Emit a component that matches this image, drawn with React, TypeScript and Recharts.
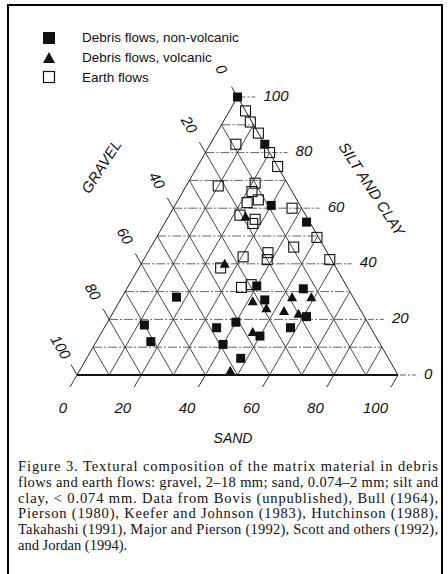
import { ScatterChart, Scatter, XAxis, YAxis, ReferenceLine, ReferenceDot, Legend } from 'recharts'

// each point: [sand %, silt and clay %]; gravel is whatever is left
const nonVolcanic = [
  [0, 100], [17, 83], [30, 61], [44, 55], [40, 32], [45, 27], [55, 31], [61, 21], [58, 17],
  [40, 19], [35, 17], [40, 11], [50, 14], [48, 6], [17, 28], [12, 18], [17, 12],
]
const volcanic = [
  [24, 57], [26, 40], [41.5, 26.5], [47, 24], [53, 28], [59, 28], [53, 23], [58, 22],
  [47, 15.5], [47, 1.5],
]
const earthFlows = [
  [5, 95], [8.5, 91], [13, 87], [20, 80], [25, 75], [8, 83], [10, 68], [21, 69], [21.5, 66],
  [25, 63], [22, 62], [22, 57.5], [27.5, 56], [27.5, 54.5], [37, 60], [50, 49.5], [44.5, 46],
  [58, 41.5], [30.5, 42.5], [37.5, 44], [38.5, 41.5], [25.5, 38.5], [35.5, 31.5], [38, 32.5],
]

const gridSteps = [10, 20, 30, 40, 50, 60, 70, 80, 90]
const tickValues = [0, 20, 40, 60, 80, 100]

const SERIES = ['Debris flows, non-volcanic', 'Debris flows, volcanic', 'Earth flows']

const captionLines = [
  'Figure 3. Textural composition of the matrix material in debris',
  'flows and earth flows: gravel, 2–18 mm; sand, 0.074–2 mm; silt and',
  'clay, < 0.074 mm. Data from Bovis (unpublished), Bull (1964),',
  'Pierson (1980), Keefer and Johnson (1983), Hutchinson (1988),',
  'Takahashi (1991), Major and Pierson (1992), Scott and others (1992),',
  'and Jordan (1994).',
]

const SANS = '"Liberation Sans", Arial, Helvetica, sans-serif'
const SERIF = '"Liberation Serif", "Times New Roman", serif'
const INK = '#111'

// ternary -> plot coords (x along base, y = silt and clay)
const toXY = ([sand, silt]: number[]) => ({ x: sand + silt / 2, y: silt, sand, silt, gravel: 100 - sand - silt })

const filledSquare = (p: any) => <rect x={p.cx - 4.5} y={p.cy - 4.5} width={9} height={9} fill={INK} />
const triangle = (p: any) => (
  <path d={`M${p.cx},${p.cy - 5} L${p.cx + 5},${p.cy + 4} L${p.cx - 5},${p.cy + 4} Z`} fill={INK} />
)
const openSquare = (p: any) => (
  <rect x={p.cx - 5} y={p.cy - 5} width={10} height={10} fill="none" stroke={INK} strokeWidth={1.1} />
)

const legendMarker = (name: string) => {
  if (name === SERIES[0]) return <rect x={1} y={1} width={12} height={12} fill={INK} />
  if (name === SERIES[1]) return <path d="M7,1 L13,12 L1,12 Z" fill={INK} />
  return <rect x={1.5} y={1.5} width={11} height={11} fill="none" stroke={INK} strokeWidth={1.2} />
}

const renderLegend = ({ payload }: any) => (
  <div style={{ fontFamily: SANS, fontSize: 13.5, color: INK }}>
    {(payload || []).map((entry: any) => (
      <div key={entry.value} style={{ display: 'flex', alignItems: 'center', height: 19.7 }}>
        <svg width={40} height={14} style={{ display: 'block' }}>
          {legendMarker(entry.value)}
        </svg>
        <span>{entry.value}</span>
      </div>
    ))}
  </div>
)

const tickText = {
  fontFamily: SANS,
  fontStyle: 'italic' as const,
  fontSize: 15,
  fill: INK,
}

const sandTick = (label: number) => (p: any) => (
  <g>
    <line x1={p.cx} y1={p.cy} x2={p.cx - 7} y2={p.cy + 12} stroke="#333" strokeWidth={1} />
    <text x={p.cx - 10} y={p.cy + 38} textAnchor="end" {...tickText}>
      {label}
    </text>
  </g>
)

const gravelTick = (label: number) => (p: any) => {
  const tx = p.cx - 16
  const ty = p.cy - 28
  return (
    <g>
      <line x1={p.cx} y1={p.cy} x2={p.cx - 6} y2={p.cy - 10.4} stroke="#333" strokeWidth={1} />
      <text
        x={tx}
        y={ty}
        textAnchor="middle"
        dominantBaseline="central"
        transform={`rotate(60 ${tx} ${ty})`}
        {...tickText}
      >
        {label}
      </text>
    </g>
  )
}

const siltTick = (label: number) => (p: any) => (
  <g>
    <line x1={p.cx + 2} y1={p.cy} x2={p.cx + 18} y2={p.cy} stroke="#555" strokeWidth={0.9} strokeDasharray="6 2 2 2" />
    <text x={p.cx + 26} y={p.cy + 3.5} textAnchor="start" {...tickText}>
      {label}
    </text>
  </g>
)

const title = (label: string, rotate: number, size = 15) => (p: any) => (
  <text
    x={p.cx}
    y={p.cy}
    textAnchor="middle"
    dominantBaseline="central"
    transform={rotate ? `rotate(${rotate} ${p.cx} ${p.cy})` : undefined}
    {...tickText}
    fontSize={size}
  >
    {label}
  </text>
)

export default function App() {
  return (
    <div style={{ position: 'absolute', left: 0, top: 0, width: 448, height: 574, background: '#fff', overflow: 'hidden' }}>
      {/* frame */}
      <div
        style={{
          position: 'absolute',
          left: 7,
          top: 4,
          width: 436,
          height: 580,
          border: '2px solid #000',
          boxSizing: 'border-box',
        }}
      />

      <div style={{ position: 'absolute', left: 0, top: 0 }}>
        <ScatterChart width={448} height={455} margin={{ top: 97, right: 50, bottom: 80, left: 77 }}>
          <XAxis type="number" dataKey="x" domain={[0, 100]} hide />
          <YAxis type="number" dataKey="y" domain={[0, 100]} hide />

          {/* constant sand */}
          {gridSteps.map((s) => (
            <ReferenceLine
              key={`sand-${s}`}
              ifOverflow="visible"
              segment={[{ x: s, y: 0 }, { x: s + (100 - s) / 2, y: 100 - s }]}
              stroke="#333"
              strokeWidth={0.9}
            />
          ))}
          {/* constant gravel */}
          {gridSteps.map((g) => (
            <ReferenceLine
              key={`gravel-${g}`}
              ifOverflow="visible"
              segment={[{ x: (100 - g) / 2, y: 100 - g }, { x: 100 - g, y: 0 }]}
              stroke="#333"
              strokeWidth={0.9}
            />
          ))}
          {/* constant silt and clay */}
          {gridSteps.map((t) => (
            <ReferenceLine
              key={`silt-${t}`}
              ifOverflow="visible"
              segment={[{ x: t / 2, y: t }, { x: 100 - t / 2, y: t }]}
              stroke="#555"
              strokeWidth={0.9}
              strokeDasharray="9 2 2 2"
            />
          ))}

          {/* triangle edges */}
          <ReferenceLine ifOverflow="visible" segment={[{ x: 0, y: 0 }, { x: 50, y: 100 }]} stroke="#222" strokeWidth={1} />
          <ReferenceLine ifOverflow="visible" segment={[{ x: 50, y: 100 }, { x: 100, y: 0 }]} stroke="#222" strokeWidth={1} />
          <ReferenceLine ifOverflow="visible" segment={[{ x: 0, y: 0 }, { x: 100, y: 0 }]} stroke="#111" strokeWidth={2.2} />

          {/* axis ticks and labels */}
          {tickValues.map((v) => (
            <ReferenceDot key={`st-${v}`} x={v} y={0} r={0} ifOverflow="visible" shape={sandTick(v)} />
          ))}
          {tickValues.map((v) => (
            <ReferenceDot key={`gt-${v}`} x={(100 - v) / 2} y={100 - v} r={0} ifOverflow="visible" shape={gravelTick(v)} />
          ))}
          {tickValues.map((v) => (
            <ReferenceDot key={`ct-${v}`} x={100 - v / 2} y={v} r={0} ifOverflow="visible" shape={siltTick(v)} />
          ))}

          <ReferenceDot x={7.5} y={75} r={0} ifOverflow="visible" shape={title('GRAVEL', -57)} />
          <ReferenceDot x={91.9} y={67} r={0} ifOverflow="visible" shape={title('SILT AND CLAY', 57)} />
          <ReferenceDot x={48.6} y={-22.7} r={0} ifOverflow="visible" shape={title('SAND', 0, 14)} />

          <Scatter name={SERIES[0]} data={nonVolcanic.map(toXY)} fill={INK} shape={filledSquare} isAnimationActive={false} />
          <Scatter name={SERIES[1]} data={volcanic.map(toXY)} fill={INK} shape={triangle} isAnimationActive={false} />
          <Scatter name={SERIES[2]} data={earthFlows.map(toXY)} fill={INK} shape={openSquare} isAnimationActive={false} />

          <Legend
            layout="vertical"
            align="center"
            verticalAlign="middle"
            content={renderLegend}
            wrapperStyle={{ left: 42, top: 28, width: 260 }}
          />
        </ScatterChart>
      </div>

      {/* caption */}
      <svg width={448} height={110} style={{ position: 'absolute', left: 0, top: 455 }}>
        {captionLines.map((line, i) => {
          const last = i === captionLines.length - 1
          return (
            <text
              key={i}
              x={18}
              y={16 + i * 15.8}
              fontFamily={SERIF}
              fontSize={14.5}
              fill={INK}
              textLength={last ? undefined : 420}
              lengthAdjust="spacing"
            >
              {line}
            </text>
          )
        })}
      </svg>
    </div>
  )
}
